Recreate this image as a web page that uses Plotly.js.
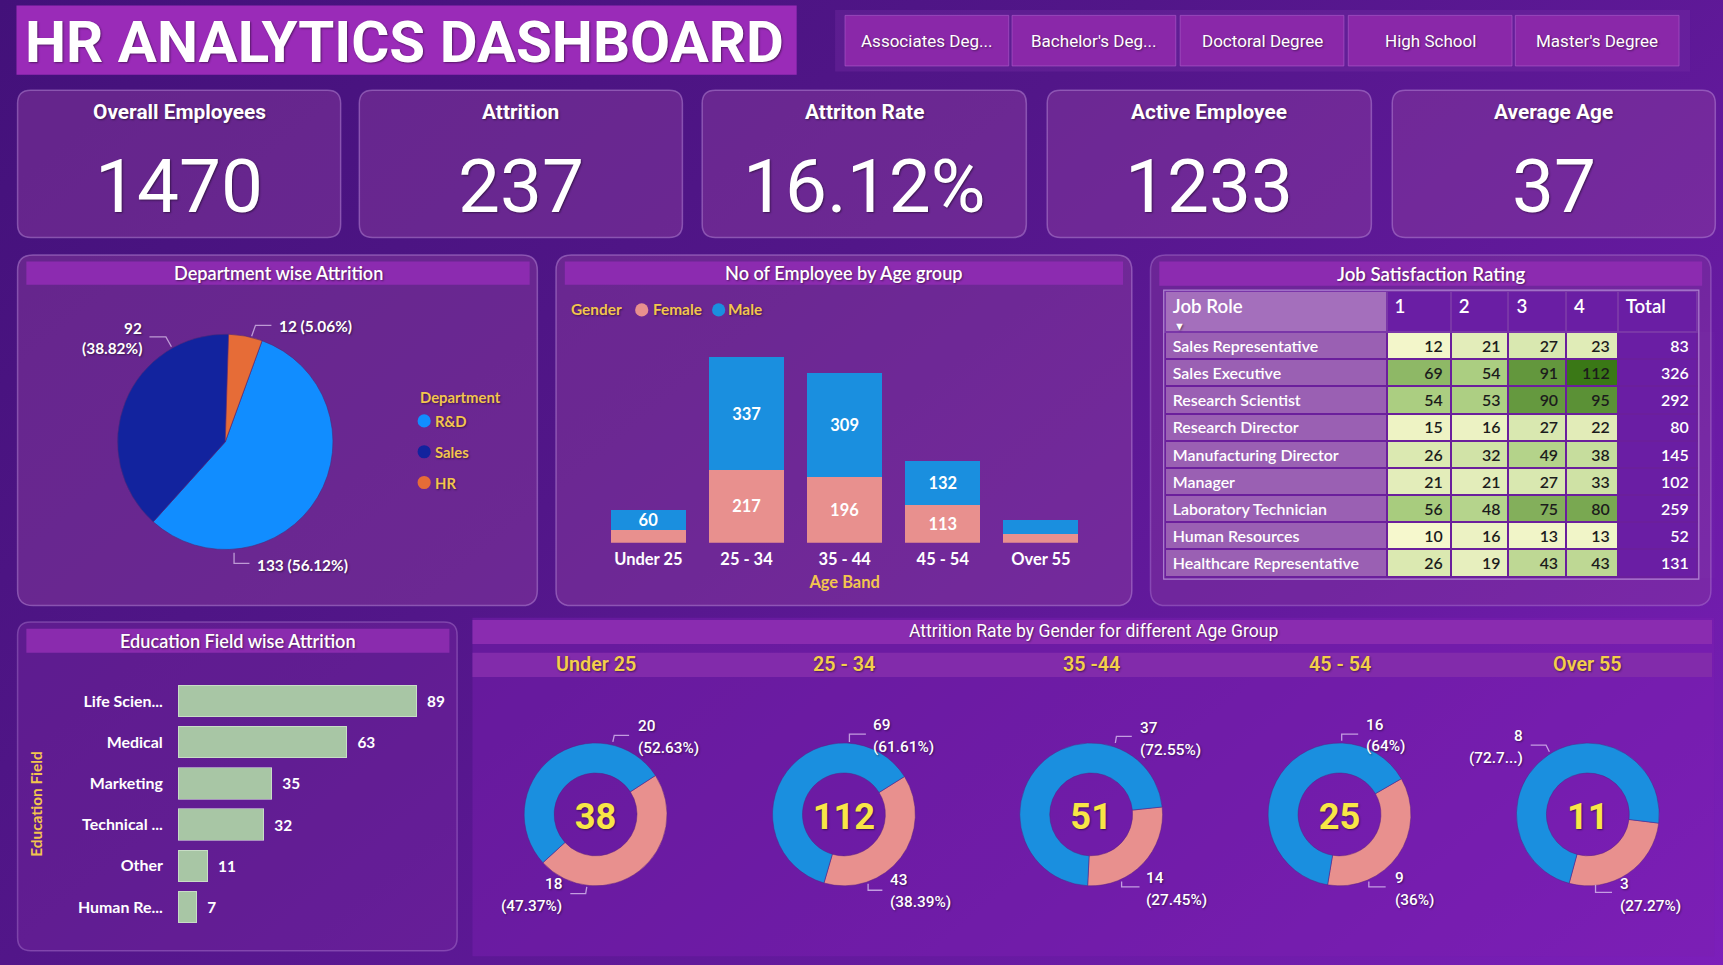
<!DOCTYPE html>
<html>
<head>
<meta charset="utf-8">
<script src="https://cdn.plot.ly/plotly-3.0.1.min.js"></script>
<style>
html,body{margin:0;padding:0;width:1723px;height:965px;overflow:hidden;
background:linear-gradient(140deg,#43117a 0%,#521689 40%,#661aa0 72%,#7c1fba 100%);}
#chart{width:1723px;height:965px;}
</style>
</head>
<body>
<div id="chart"></div>
<script>
// ---------------- DATA ----------------
const dashboardTitle = 'HR ANALYTICS DASHBOARD';
const educationLevels = ['Associates Deg...', "Bachelor's Deg...", 'Doctoral Degree', 'High School', "Master's Degree"];
const kpiTitles = ['Overall Employees', 'Attrition', 'Attriton Rate', 'Active Employee', 'Average Age'];
const kpiValues = ['1470', '237', '16.12%', '1233', '37'];

const departments = ['R&D', 'Sales', 'HR'];
const deptAttrition = [133, 92, 12];

const ageBands = ['Under 25', '25 - 34', '35 - 44', '45 - 54', 'Over 55'];
const femaleCount = [37, 217, 196, 113, 25];
const maleCount = [60, 337, 309, 132, 44];

const jobRoles = ['Sales Representative', 'Sales Executive', 'Research Scientist', 'Research Director',
  'Manufacturing Director', 'Manager', 'Laboratory Technician', 'Human Resources', 'Healthcare Representative'];
const sat1 = [12, 69, 54, 15, 26, 21, 56, 10, 26];
const sat2 = [21, 54, 53, 16, 32, 21, 48, 16, 19];
const sat3 = [27, 91, 90, 27, 49, 27, 75, 13, 43];
const sat4 = [23, 112, 95, 22, 38, 33, 80, 13, 43];
const jobTotals = [83, 326, 292, 80, 145, 102, 259, 52, 131];
const satHeaders = ['Job Role', '1', '2', '3', '4', 'Total'];

const eduFields = ['Life Scien...', 'Medical', 'Marketing', 'Technical ...', 'Other', 'Human Re...'];
const eduAttrition = [89, 63, 35, 32, 11, 7];

const donutAgeTitles = ['Under 25', '25 - 34', '35 -44', '45 - 54', 'Over 55'];
const maleAttrition = [20, 69, 37, 16, 8];
const femaleAttrition = [18, 43, 14, 9, 3];

// ---------------- HELPERS (design grid 1568x878 scaled to 1723x965) ----------------
const W = 1568, H = 878, K = 1723 / 1568;
const X = x => x / W, Y = y => 1 - y / H, S = v => v * K;
const NARROW = "Roboto,'Liberation Sans',sans-serif";
const UI = "Lato,'Open Sans',sans-serif";
const GOLD = '#f3c54e';
const SHADOW = '1px 1px 2px rgba(0,0,0,0.45)';
const shapes = [], annotations = [];

function rr(x0, y0, x1, y1, r, fill, line, lw) {
  const rx = r / W, ry = r / H, a = X(x0), b = X(x1), t = Y(y0), bt = Y(y1);
  let p;
  if (r > 0) {
    p = `M${a + rx},${t} L${b - rx},${t} Q${b},${t} ${b},${t - ry} L${b},${bt + ry} Q${b},${bt} ${b - rx},${bt} ` +
        `L${a + rx},${bt} Q${a},${bt} ${a},${bt + ry} L${a},${t - ry} Q${a},${t} ${a + rx},${t} Z`;
  } else {
    p = `M${a},${t} L${b},${t} L${b},${bt} L${a},${bt} Z`;
  }
  shapes.push({type: 'path', xref: 'paper', yref: 'paper', path: p, fillcolor: fill,
    line: {color: line || 'rgba(0,0,0,0)', width: line ? (lw || 1) : 0}, layer: 'below'});
}
function poly(pts, color, width) {
  const p = pts.map((q, i) => (i ? 'L' : 'M') + X(q[0]) + ',' + Y(q[1])).join(' ');
  shapes.push({type: 'path', xref: 'paper', yref: 'paper', path: p, line: {color: color, width: width || 1.3}, layer: 'above'});
}
function dot(cx, cy, r, color) {
  shapes.push({type: 'circle', xref: 'paper', yref: 'paper', x0: X(cx - r), x1: X(cx + r), y0: Y(cy + r), y1: Y(cy - r),
    fillcolor: color, line: {width: 0}, layer: 'above'});
}
function txt(x, y, text, size, color, family, weight, xanchor, extra) {
  annotations.push(Object.assign({xref: 'paper', yref: 'paper', x: X(x), y: Y(y), text: text, showarrow: false,
    xanchor: xanchor || 'center', yanchor: 'middle',
    font: {size: S(size), color: color, family: family, weight: weight || 400, shadow: SHADOW}}, extra || {}));
}
const pctText = (v, tot) => parseFloat((v / tot * 100).toFixed(2)) + '%';

// ---------------- BACKGROUND STRUCTURE ----------------
rr(15, 5, 725, 68, 0, '#9a2bb8');
rr(760, 9, 1538, 65, 0, 'rgba(120,45,165,0.35)');
const btnX = [[769, 918], [921, 1070], [1074, 1223], [1227, 1376], [1379, 1528]];
btnX.forEach(b => rr(b[0], 14, b[1], 60, 0, '#8a28a9', 'rgba(175,95,205,0.6)', 1));
const kpiX = [[16, 310], [327, 621], [639, 934], [953, 1248], [1267, 1561]];
kpiX.forEach(b => rr(b[0], 82, b[1], 216, 12, 'rgba(140,62,160,0.45)', 'rgba(195,150,225,0.45)', 1.5));
// row 2 panels
rr(16, 232, 489, 551, 14, 'rgba(140,62,160,0.45)', 'rgba(195,150,225,0.45)', 1.5);
rr(506, 232, 1030, 551, 14, 'rgba(140,62,160,0.45)', 'rgba(195,150,225,0.45)', 1.5);
rr(1047, 232, 1557, 551, 14, 'rgba(140,62,160,0.35)', 'rgba(195,150,225,0.35)', 1.5);
rr(24, 238, 482, 259, 0, '#8c2bb0');
rr(514, 238, 1022, 259, 0, '#8c2bb0');
rr(1055, 238, 1549, 260, 0, '#8c2bb0');
// row 3
rr(16, 566, 416, 865, 12, 'rgba(120,40,160,0.40)', 'rgba(195,150,225,0.35)', 1.5);
rr(24, 572, 409, 594, 0, '#8a2bae');
rr(430, 562, 1560, 870, 0, 'rgba(125,30,178,0.45)');
rr(430, 564, 1558, 586, 0, '#8a2cb0');
rr(430, 594, 1558, 616, 0, '#822bab');

// ---------------- HEADER TEXTS ----------------
txt(21, 38, dashboardTitle, 53, 'white', NARROW, 700, 'left');
const btnCx = btnX.map(b => (b[0] + b[1]) / 2);
educationLevels.forEach((t, i) => txt(btnCx[i], 37, t, 15.5, 'white', NARROW, 400));
const kpiCx = kpiX.map(b => (b[0] + b[1]) / 2);
kpiTitles.forEach((t, i) => txt(kpiCx[i], 102, t, 19, 'white', NARROW, 700));
kpiValues.forEach((t, i) => txt(kpiCx[i], 170, t, 68, 'white', NARROW, 400));

txt(253, 248, 'Department wise Attrition', 16.5, 'white', UI, 600);
txt(768, 248, 'No of Employee by Age group', 16.5, 'white', UI, 600);
txt(1302, 249, 'Job Satisfaction Rating', 17, 'white', UI, 600);
txt(217, 583, 'Education Field wise Attrition', 16.5, 'white', UI, 600);
txt(995, 574, 'Attrition Rate by Gender for different Age Group', 16, 'white', NARROW, 400);

// ---------------- DEPARTMENT PIE ----------------
const deptColors = ['#118dff', '#12239e', '#e66c37'];
const deptTot = deptAttrition.reduce((a, b) => a + b, 0);
const traces = [];
traces.push({type: 'pie', labels: departments, values: deptAttrition, sort: false, direction: 'clockwise', rotation: 20,
  marker: {colors: deptColors, line: {color: 'rgba(80,40,120,0.6)', width: 1}}, textinfo: 'none', hoverinfo: 'label+value+percent',
  domain: {x: [X(107), X(303)], y: [Y(500), Y(304)]}, showlegend: false});
txt(232, 514, deptAttrition[0] + ' (' + pctText(deptAttrition[0], deptTot) + ')', 14, 'white', UI, 700, 'left');
poly([[213, 503], [213, 512.5], [227, 512.5]], 'rgba(205,175,225,0.85)');
txt(131, 298, String(deptAttrition[1]), 14, 'white', UI, 700, 'right');
txt(131, 317, '(' + pctText(deptAttrition[1], deptTot) + ')', 14, 'white', UI, 700, 'right');
poly([[136, 306.5], [151, 306.5], [156, 315.5]], 'rgba(205,175,225,0.85)');
txt(252, 297, deptAttrition[2] + ' (' + pctText(deptAttrition[2], deptTot) + ')', 14, 'white', UI, 700, 'left');
poly([[229, 306], [232.5, 296], [247, 296]], 'rgba(205,175,225,0.85)');
txt(380, 361, 'Department', 13.5, GOLD, UI, 700, 'left');
departments.forEach((d, i) => {
  dot(386, 383 + 28 * i, 6, deptColors[i]);
  txt(394, 383 + 28 * i, d, 13.5, GOLD, UI, 700, 'left');
});

// ---------------- AGE BAND STACKED BAR ----------------
const FEM = '#e8908e', MAL = '#1a8fdf';
const lbl = arr => arr.map(v => v >= 50 ? String(v) : '');
[['Female', femaleCount, FEM], ['Male', maleCount, MAL]].forEach(s => {
  traces.push({type: 'bar', name: s[0], x: ageBands, y: s[1], marker: {color: s[2]}, text: lbl(s[1]),
    textposition: 'inside', insidetextanchor: 'middle', constraintext: 'none', textangle: 0, texttemplate: '%{text}',
    textfont: {color: 'white', size: S(15), family: UI, weight: 700}, xaxis: 'x', yaxis: 'y', hoverinfo: 'y'});
});
txt(518, 281, 'Gender', 14, GOLD, UI, 700, 'left');
dot(584, 282, 6, FEM); txt(592, 281, 'Female', 14, GOLD, UI, 700, 'left');
dot(654, 282, 6, MAL); txt(661, 281, 'Male', 14, GOLD, UI, 700, 'left');

// ---------------- JOB SATISFACTION TABLE ----------------
const heatAll = [].concat(sat1, sat2, sat3, sat4);
const hMin = Math.min(...heatAll), hMax = Math.max(...heatAll);
function heat(v) {
  const stops = [[0, [246, 248, 205]], [0.45, [168, 204, 126]], [1, [58, 120, 22]]];
  const t = (v - hMin) / (hMax - hMin);
  for (let i = 1; i < stops.length; i++) {
    if (t <= stops[i][0] + 1e-9) {
      const [t0, c0] = stops[i - 1], [t1, c1] = stops[i], u = (t - t0) / (t1 - t0);
      const c = c0.map((a, k) => Math.round(a + (c1[k] - a) * u));
      return `rgb(${c[0]},${c[1]},${c[2]})`;
    }
  }
  return 'rgb(58,120,22)';
}
const ROLEBG = '#9a60b3', DARKBG = '#6a1ea4';
traces.push({type: 'table', domain: {x: [X(1060), X(1545)], y: [Y(527), Y(265)]},
  columnwidth: [202, 58.5, 52.5, 52.5, 47, 72],
  header: {values: satHeaders, align: 'left', height: S(37),
    fill: {color: ['#a46fbc', DARKBG, DARKBG, DARKBG, DARKBG, DARKBG]},
    line: {color: '#7a36a8', width: 2},
    font: {family: UI, size: S(17), color: 'white', weight: 600}},
  cells: {values: [jobRoles, sat1, sat2, sat3, sat4, jobTotals],
    align: ['left', 'right', 'right', 'right', 'right', 'right'], height: S(24.75),
    fill: {color: [jobRoles.map(() => ROLEBG), sat1.map(heat), sat2.map(heat), sat3.map(heat), sat4.map(heat), jobTotals.map(() => DARKBG)]},
    line: {color: '#6b1f9c', width: 2},
    font: {family: UI, size: S(14.5), color: ['white', '#1c1c1c', '#1c1c1c', '#1c1c1c', '#1c1c1c', 'white'], weight: 600}}});
txt(1073, 296, '▼', 10, 'white', UI, 400);
shapes.push({type: 'rect', xref: 'paper', yref: 'paper', x0: X(1059), x1: X(1546), y0: Y(527), y1: Y(264),
  line: {color: 'rgba(200,170,230,0.7)', width: 1.2}, fillcolor: 'rgba(0,0,0,0)', layer: 'above'});

// ---------------- EDUCATION FIELD BAR ----------------
traces.push({type: 'bar', orientation: 'h', x: eduAttrition, y: eduFields, xaxis: 'x2', yaxis: 'y2',
  marker: {color: '#a8c6a5', line: {color: 'rgba(225,240,225,0.55)', width: 1}},
  text: eduAttrition.map(String), texttemplate: '  %{text}', textposition: 'outside', cliponaxis: false,
  textfont: {color: 'white', size: S(14), family: UI, weight: 700}, hoverinfo: 'x'});

// ---------------- DONUTS ----------------
const donutCx = [542, 768, 993, 1219, 1445];
const donutRot = [57, 58, 84, 60, 97];
donutAgeTitles.forEach((t, i) => txt(donutCx[i], 605, t, 18, '#f3cf4a', NARROW, 600));
donutCx.forEach((cx, i) => {
  const tot = maleAttrition[i] + femaleAttrition[i];
  traces.push({type: 'pie', values: [femaleAttrition[i], maleAttrition[i]], labels: ['Female', 'Male'],
    hole: 0.58, sort: false, direction: 'clockwise', rotation: donutRot[i], textinfo: 'none',
    marker: {colors: [FEM, MAL], line: {color: 'rgba(90,30,130,0.5)', width: 1}},
    domain: {x: [X(cx - 65), X(cx + 65)], y: [Y(806), Y(676)]}, showlegend: false,
    title: {text: String(tot), position: 'middle center',
      font: {family: NARROW, size: S(33), color: '#f8e646', weight: 700, shadow: SHADOW}}});
});
const topLab = [{x: 579, a: 'left', y1: 661, y2: 681}, {x: 793, a: 'left', y1: 660, y2: 680},
  {x: 1036, a: 'left', y1: 662, y2: 682}, {x: 1241, a: 'left', y1: 660, y2: 679}, {x: 1388, a: 'right', y1: 670, y2: 690}];
const botLab = [{x: 513, a: 'right', y1: 804, y2: 824}, {x: 808, a: 'left', y1: 801, y2: 821},
  {x: 1041, a: 'left', y1: 799, y2: 819}, {x: 1268, a: 'left', y1: 799, y2: 819}, {x: 1472, a: 'left', y1: 804, y2: 824}];
const topTrunc = [0, 0, 0, 0, 5];
const topLead = [[[557.7, 675], [559, 669], [572.5, 669]], [[773, 675], [773, 668], [788, 668]],
  [[1015, 676], [1016, 670], [1030, 670]], [[1221, 674], [1221, 668], [1236, 668]], [[1410, 684], [1407, 678], [1393, 678]]];
const botLead = [[[534, 807], [533, 813], [519, 813]], [[790, 804], [790, 810], [803, 810]],
  [[1020.7, 802], [1020.7, 807], [1037, 807]], [[1245.7, 802], [1245.7, 807], [1261, 807]], [[1452, 805], [1452, 812], [1467, 812]]];
donutCx.forEach((cx, i) => {
  const tot = maleAttrition[i] + femaleAttrition[i];
  let mp = '(' + pctText(maleAttrition[i], tot) + ')';
  if (topTrunc[i]) mp = mp.slice(0, topTrunc[i]) + '...)';
  const fp = '(' + pctText(femaleAttrition[i], tot) + ')';
  const t = topLab[i], b = botLab[i];
  txt(t.x, t.y1, String(maleAttrition[i]), 14, 'white', NARROW, 500, t.a);
  txt(t.x, t.y2, mp, 14, 'white', NARROW, 500, t.a);
  txt(b.x, b.y1, String(femaleAttrition[i]), 14, 'white', NARROW, 500, b.a);
  txt(b.x, b.y2, fp, 14, 'white', NARROW, 500, b.a);
  poly(topLead[i], 'rgba(210,180,235,0.85)', 1.3);
  poly(botLead[i], 'rgba(210,180,235,0.85)', 1.3);
});

// ---------------- LAYOUT ----------------
const layout = {
  width: 1723, height: 965, margin: {l: 0, r: 0, t: 0, b: 0},
  paper_bgcolor: 'rgba(0,0,0,0)', plot_bgcolor: 'rgba(0,0,0,0)',
  showlegend: false, barmode: 'stack', bargap: 0.235,
  xaxis: {domain: [X(545.4), X(991.9)], anchor: 'y', showgrid: false, zeroline: false, showline: false,
    ticks: 'outside', ticklen: S(1), tickcolor: 'rgba(0,0,0,0)',
    tickfont: {color: 'white', size: S(15), family: UI, weight: 700}, fixedrange: true,
    title: {text: 'Age Band', font: {color: GOLD, size: S(15), family: UI, weight: 700}, standoff: S(8)}},
  yaxis: {domain: [Y(493.8), Y(310.8)], anchor: 'x', range: [0, 600], visible: false, fixedrange: true},
  xaxis2: {domain: [X(162), X(406)], anchor: 'y2', range: [0, 100], visible: false, fixedrange: true},
  yaxis2: {domain: [Y(844), Y(619)], anchor: 'x2', autorange: 'reversed', showgrid: false, zeroline: false, showline: false,
    ticks: 'outside', ticklen: S(10), tickcolor: 'rgba(0,0,0,0)',
    tickfont: {color: 'white', size: S(14.5), family: UI, weight: 700}, fixedrange: true,
    title: {text: 'Education Field', font: {color: GOLD, size: S(14), family: UI, weight: 700}, standoff: S(28)}},
  shapes: shapes, annotations: annotations,
  font: {family: UI, color: 'white'}
};
Plotly.newPlot('chart', traces, layout, {displayModeBar: false, responsive: false});
</script>
</body>
</html>
